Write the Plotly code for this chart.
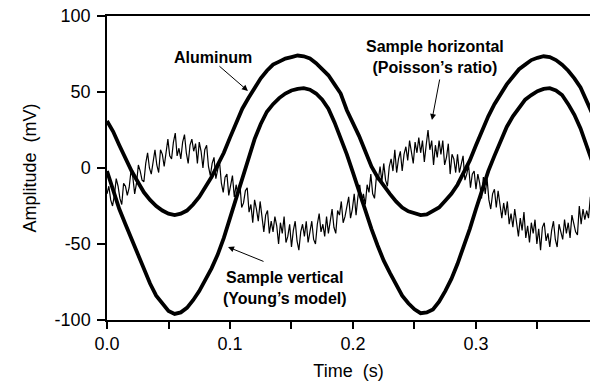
import numpy as np
import plotly.graph_objects as go

# ---- data ----
T_STEP_SMOOTH = 0.005
aluminum = [31, 24, 15, 6, -2, -9, -16, -21, -25, -28,
            -30, -31, -30, -28, -24, -19, -13, -6, 2, 10,
            20, 30, 39, 46, 53, 59, 64, 68, 70, 72,
            73, 74, 73.5, 72, 69, 65, 61, 55, 49, 38,
            30, 21, 11, 1, -6, -12, -17, -22, -26, -28.5,
            -30, -31, -30.5, -28.5, -26, -21.5, -17, -11, -3, 5,
            15, 25, 34, 42, 49, 55, 60, 65, 68, 71,
            72.5, 73.5, 73, 71, 68, 64, 59, 53, 44, 35]
vertical = [-2, -15, -27, -37, -47, -57, -67, -76, -84, -89,
            -94, -96, -95, -92, -87, -81, -74, -66, -57, -46,
            -33, -20, -7, 7, 19, 29, 37, 42, 46, 49,
            51, 52, 52.5, 51.5, 49, 45, 39, 30, 20, 9,
            -3, -16, -28, -40, -51, -61, -69, -77, -84, -89,
            -93, -95.5, -95, -93, -88, -81, -73, -63, -52, -40,
            -27, -14, -2, 8, 18, 27, 34, 40, 45, 48,
            50.5, 52, 52.5, 51, 48, 42, 35, 26, 14, 3]

T_STEP_NOISY = 0.0015
horizontal = [
    -17, -12, -21, -25, -18, -7, -12, -20, -24, -10,
    -12, -18, -13, -2, -6, -17, -10, 2, -2, -8,
    -9, 3, 10, 0, -4, 5, 12, 2, -3, 12,
    9, 1, 12, 19, 8, 6, 17, 23, 8, 13,
    6, 17, 22, 10, 3, 15, 19, 11, 16, 3,
    17, 11, 0, 12, 15, 1, -5, 3, 7, -7,
    -1, 4, -10, -16, -6, -4, -18, -11, -5, -19,
    -11, -18, -10, -26, -23, -15, -13, -29, -24, -36,
    -21, -27, -35, -22, -33, -42, -31, -28, -43, -35,
    -42, -32, -38, -50, -36, -43, -32, -49, -45, -37,
    -52, -41, -35, -48, -54, -42, -37, -45, -35, -49,
    -42, -35, -47, -50, -37, -30, -42, -37, -45, -32,
    -43, -34, -27, -39, -43, -28, -31, -22, -36, -32,
    -24, -19, -33, -27, -17, -31, -19, -11, -23, -17,
    -24, -11, -16, -4, -17, -20, -6, -8, 1, -9,
    3, -8, -12, 1, 6, -2, 12, -3, 6, 11,
    -2, 9, 14, 5, 18, 11, 3, 17, 10, 20,
    10, 18, 4, 15, 25, 12, 18, 2, 15, 7,
    18, 9, 18, 2, 7, 16, -4, 9, 6, -3,
    9, -3, 3, 8, -8, -4, 2, -13, -4, -2,
    -14, -4, -10, -20, -6, -17, -7, -21, -27, -17,
    -14, -26, -15, -26, -33, -23, -31, -22, -37, -30,
    -39, -27, -35, -45, -33, -41, -29, -46, -38, -49,
    -36, -43, -34, -50, -40, -54, -39, -36, -48, -43,
    -52, -41, -35, -47, -52, -37, -42, -47, -34, -43,
    -36, -46, -31, -36, -42, -44, -25, -37, -27, -34,
    -28, -33, -19, -21]

x_tickvals = [0, 0.05, 0.1, 0.15, 0.2, 0.25, 0.3, 0.35]
x_ticktext = ["0.0", "", "0.1", "", "0.2", "", "0.3", ""]
y_tickvals = [-100, -50, 0, 50, 100]
y_ticktext = ["-100", "-50", "0", "50", "100"]

t_smooth = np.round(np.arange(len(aluminum)) * T_STEP_SMOOTH, 4)
t_noisy = np.round(np.arange(len(horizontal)) * T_STEP_NOISY, 4)

FONT = "Liberation Sans, Arial, sans-serif"

fig = go.Figure()
fig.add_trace(go.Scatter(x=t_noisy, y=horizontal, mode="lines",
                         line=dict(color="black", width=1.2), showlegend=False))
fig.add_trace(go.Scatter(x=t_smooth, y=aluminum, mode="lines",
                         line=dict(color="black", width=3.8), showlegend=False))
fig.add_trace(go.Scatter(x=t_smooth, y=vertical, mode="lines",
                         line=dict(color="black", width=3.8), showlegend=False))

ann_font = dict(family=FONT, size=16, color="black")
annotations = [
    dict(x=0.0862, y=73, text="<b>Aluminum</b>", showarrow=False, font=ann_font),
    dict(x=0.2667, y=73, text="<b>Sample horizontal</b><br><b>(Poisson’s ratio)</b>",
         showarrow=False, font=ann_font),
    dict(x=0.1447, y=-79, text="<b>Sample vertical</b><br><b>(Young’s model)</b>",
         showarrow=False, font=ann_font),
    dict(x=0.1146, y=50.7, ax=-30, ay=-26, text="", showarrow=True,
         arrowhead=2, arrowsize=1.2, arrowwidth=1, arrowcolor="black"),
    dict(x=0.2642, y=31.6, ax=8, ay=-42, text="", showarrow=True,
         arrowhead=2, arrowsize=1.2, arrowwidth=1, arrowcolor="black"),
    dict(x=0.0984, y=-52, ax=37, ay=15, text="", showarrow=True,
         arrowhead=2, arrowsize=1.2, arrowwidth=1, arrowcolor="black"),
]

fig.update_layout(
    width=590, height=385,
    margin=dict(l=107, r=0, t=16, b=65),
    paper_bgcolor="white", plot_bgcolor="white",
    font=dict(family=FONT, size=18, color="black"),
    annotations=annotations,
    xaxis=dict(range=[0, 0.3927], tickvals=x_tickvals, ticktext=x_ticktext,
               ticks="outside", ticklen=7, tickwidth=1.5, tickcolor="black",
               showline=True, linecolor="black", linewidth=1.5, mirror=True,
               showgrid=False, zeroline=False,
               tickfont=dict(size=18),
               title=dict(text="Time\u00a0 (s)", font=dict(size=18), standoff=11)),
    yaxis=dict(range=[-100, 100], tickvals=y_tickvals, ticktext=y_ticktext,
               ticks="outside", ticklen=8, tickwidth=1.5, tickcolor="black",
               showline=True, linecolor="black", linewidth=1.5,
               showgrid=False, zeroline=False, ticklabelstandoff=3,
               tickfont=dict(size=18),
               title=dict(text="Amplitude\u00a0 (mV)", font=dict(size=18), standoff=13)),
)

fig.write_html("out.html")
